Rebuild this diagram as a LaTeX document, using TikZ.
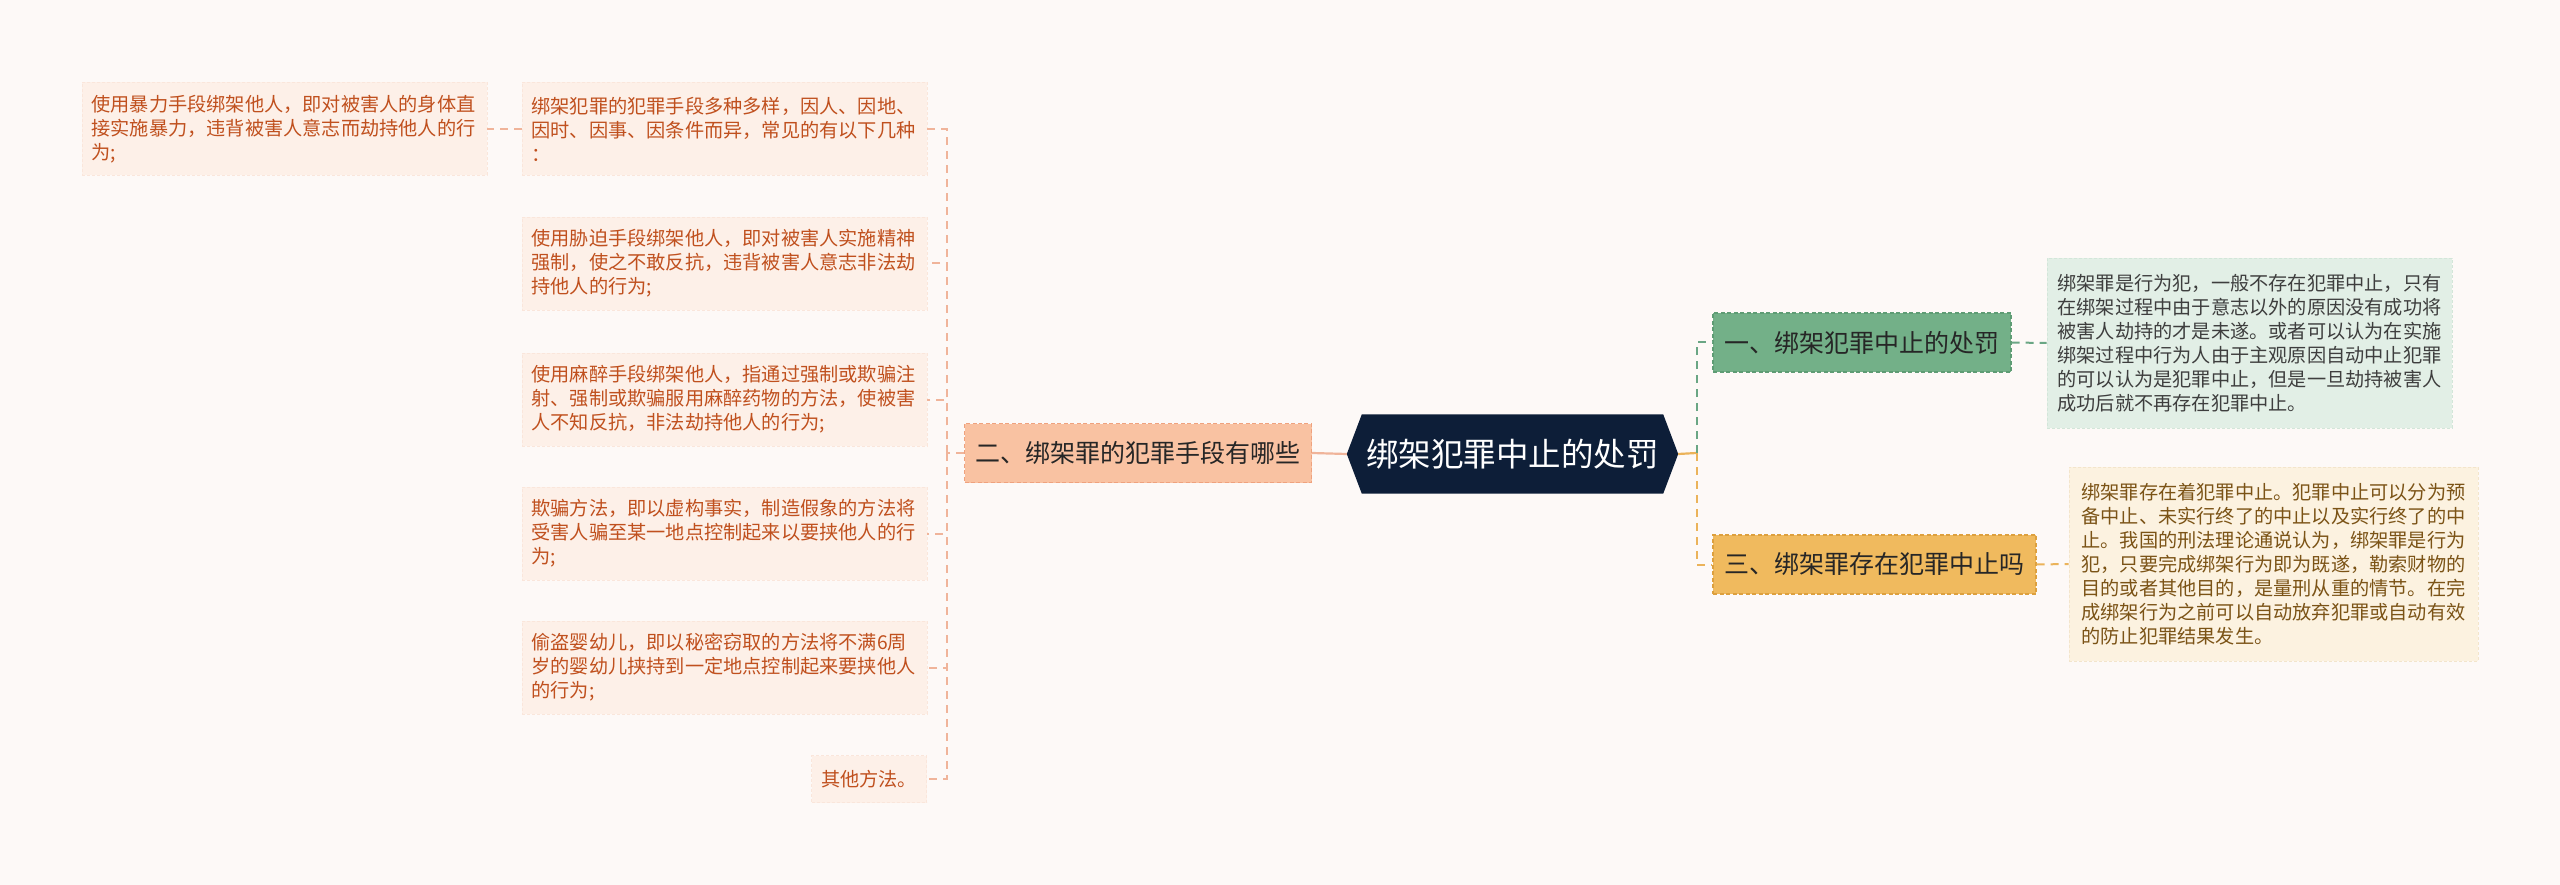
\documentclass[tikz,border=0pt]{standalone}
\usepackage{fontspec}
\newfontfamily\cjk{Noto Sans CJK SC}
\usetikzlibrary{backgrounds}
\definecolor{bgc}{HTML}{FDF9F7}
\definecolor{leaffill}{HTML}{FDF0E8}
\definecolor{leafedge}{HTML}{FAE6DB}
\definecolor{leaftext}{HTML}{C0501E}
\definecolor{salfill}{HTML}{F9C2A2}
\definecolor{saledge}{HTML}{EFA27E}
\definecolor{salconn}{HTML}{F0B49A}
\definecolor{rootfill}{HTML}{0D1E38}
\definecolor{grnfill}{HTML}{73B088}
\definecolor{grnedge}{HTML}{5E9C74}
\definecolor{grnbox}{HTML}{E2EFE6}
\definecolor{grnboxedge}{HTML}{D3E6D9}
\definecolor{grntext}{HTML}{3E3E3E}
\definecolor{grnconn}{HTML}{6AA684}
\definecolor{orgfill}{HTML}{F0BA5E}
\definecolor{orgedge}{HTML}{DDA03E}
\definecolor{begbox}{HTML}{FCF2E0}
\definecolor{begboxedge}{HTML}{F3E5CC}
\definecolor{begtext}{HTML}{7B5316}
\definecolor{orgconn}{HTML}{EBB35A}
\begin{document}
\begin{tikzpicture}[x=1pt,y=-1pt,
  leafbase/.style={fill=leaffill, draw=leafedge, dash pattern=on 3pt off 2pt, line width=0.8pt,
    text=leaftext, font=\cjk\fontsize{19.2}{24}\selectfont, align=left, inner xsep=9.5pt, inner ysep=6pt},
  leaf/.style={leafbase, text width=386pt, minimum height=93pt},
  branch/.style={font=\cjk\fontsize{25}{30}\selectfont, text=black!85, minimum height=59pt,
    inner xsep=11pt, line width=1.2pt, dash pattern=on 4pt off 2.5pt},
  textbox/.style={font=\cjk\fontsize{19.2}{24}\selectfont, align=left, text width=384pt,
    inner ysep=6pt, line width=0.8pt, dash pattern=on 3pt off 2pt},
  conn/.style={line width=2pt, dash pattern=on 8pt off 6pt},
  solidconn/.style={line width=2.2pt}
]
\useasboundingbox (0,0) rectangle (2560,885);
\begin{pgfonlayer}{background}
\fill[bgc] (0,0) rectangle (2560,885);
\end{pgfonlayer}

% root
\node[font=\cjk\fontsize{32.5}{36}\selectfont, text=white, minimum width=331pt, minimum height=79pt, inner sep=0pt]
  (root) at (1512.5,454) {绑架犯罪中止的处罚};
\begin{pgfonlayer}{background}
\fill[rootfill] (root.west) -- ([xshift=15pt]root.north west) -- ([xshift=-15pt]root.north east)
  -- (root.east) -- ([xshift=-15pt]root.south east) -- ([xshift=15pt]root.south west) -- cycle;
\end{pgfonlayer}

% branches
\node[branch, fill=salfill, draw=saledge, minimum width=346pt] (b2) at (1138,453) {二、绑架罪的犯罪手段有哪些};
\node[branch, fill=grnfill, draw=grnedge, minimum width=298pt] (b1) at (1862,342.5) {一、绑架犯罪中止的处罚};
\node[branch, fill=orgfill, draw=orgedge, minimum width=323pt] (b3) at (1874.5,564.5) {三、绑架罪存在犯罪中止吗};

% left leaves
\node[leaf] (l1) at (724.5,129) {绑架犯罪的犯罪手段多种多样，因人、因地、\\因时、因事、因条件而异，常见的有以下几种\\：};
\node[leaf] (l0) at (284.5,129) {使用暴力手段绑架他人，即对被害人的身体直\\接实施暴力，违背被害人意志而劫持他人的行\\为;};
\node[leaf] (l2) at (724.5,263.5) {使用胁迫手段绑架他人，即对被害人实施精神\\强制，使之不敢反抗，违背被害人意志非法劫\\持他人的行为;};
\node[leaf] (l3) at (724.5,399.5) {使用麻醉手段绑架他人，指通过强制或欺骗注\\射、强制或欺骗服用麻醉药物的方法，使被害\\人不知反抗，非法劫持他人的行为;};
\node[leaf] (l4) at (724.5,533.5) {欺骗方法，即以虚构事实，制造假象的方法将\\受害人骗至某一地点控制起来以要挟他人的行\\为;};
\node[leaf] (l5) at (724.5,667.5) {偷盗婴幼儿，即以秘密窃取的方法将不满6周\\岁的婴幼儿挟持到一定地点控制起来要挟他人\\的行为;};
\node[leafbase, minimum height=47pt, anchor=east] (l6) at (927,779) {其他方法。};

% right text boxes
\node[textbox, fill=grnbox, draw=grnboxedge, text=grntext, inner xsep=10.5pt, minimum height=170pt]
  (t1) at (2249.5,343) {绑架罪是行为犯，一般不存在犯罪中止，只有\\在绑架过程中由于意志以外的原因没有成功将\\被害人劫持的才是未遂。或者可以认为在实施\\绑架过程中行为人由于主观原因自动中止犯罪\\的可以认为是犯罪中止，但是一旦劫持被害人\\成功后就不再存在犯罪中止。};
\node[textbox, fill=begbox, draw=begboxedge, text=begtext, inner xsep=12.5pt, minimum height=194pt]
  (t3) at (2273.5,564) {绑架罪存在着犯罪中止。犯罪中止可以分为预\\备中止、未实行终了的中止以及实行终了的中\\止。我国的刑法理论通说认为，绑架罪是行为\\犯，只要完成绑架行为即为既遂，勒索财物的\\目的或者其他目的，是量刑从重的情节。在完\\成绑架行为之前可以自动放弃犯罪或自动有效\\的防止犯罪结果发生。};

% connectors left
\coordinate (lj) at (946.5,453);
\draw[solidconn, salconn] (root.west) -- (b2.east);
\draw[conn, salconn] (b2.west) -- (lj);
\foreach \n in {l1,l2,l3,l4,l5,l6} {
  \draw[conn, salconn] (lj) |- (\n.east);
}
\draw[conn, salconn] (l1.west) -- (l0.east);

% connectors right
\coordinate (rj) at (1696.5,453);
\draw[solidconn, orgconn] (root.east) -- (rj);
\draw[conn, grnconn] (rj) |- (b1.west);
\draw[conn, orgconn] (rj) |- (b3.west);
\draw[conn, grnconn] (b1.east) -- (t1.west);
\draw[conn, orgconn] (b3.east) -- (t3.west);
\end{tikzpicture}
\end{document}
